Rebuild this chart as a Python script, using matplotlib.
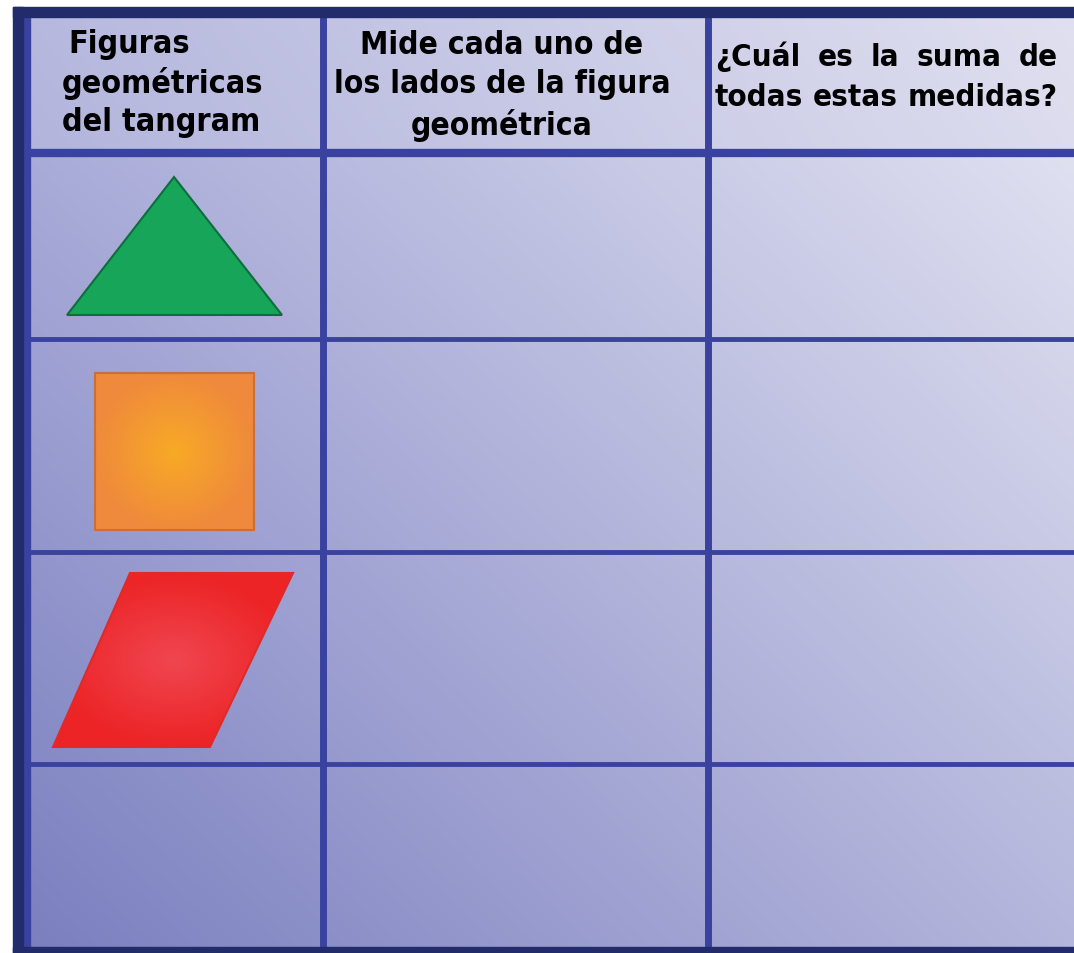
import numpy as np
import matplotlib.pyplot as plt
from matplotlib.patches import Polygon, Rectangle
from matplotlib.colors import to_rgb

# table text
headers = [
    "Figuras\ngeométricas\ndel tangram",
    "Mide cada uno de\nlos lados de la figura\ngeométrica",
    "¿Cuál es la suma de\ntodas estas medidas?",
]
col_edges = [22, 323, 708, 1074]
row_edges = [13, 154, 340, 553, 765, 950]

# shapes in the first column (pixel vertices)
triangle = [(174, 178), (67, 316), (282, 316)]
square = [(95, 374), (254, 374), (254, 531), (95, 531)]
rhomb = [(130, 574), (293, 574), (210, 748), (53, 748)]

W, H = 1074, 954
fig = plt.figure(figsize=(W / 100, H / 100), dpi=100)
ax = fig.add_axes([0, 0, 1, 1])
ax.set_xlim(0, W)
ax.set_ylim(H, 0)
ax.axis("off")


def grad2d(c_tl, c_tr, c_bl, c_br, n=200):
    t = np.linspace(0, 1, n)
    u, v = np.meshgrid(t, t)
    out = np.zeros((n, n, 3))
    for c, w in [(c_tl, (1 - u) * (1 - v)), (c_tr, u * (1 - v)),
                 (c_bl, (1 - u) * v), (c_br, u * v)]:
        out += np.array(to_rgb(c))[None, None, :] * w[..., None]
    return out


# body background
ax.imshow(grad2d("#a8abd8", "#dfe0f0", "#7b7fbf", "#b4b6dc"),
          extent=(col_edges[0], W, row_edges[-1], row_edges[1]),
          aspect="auto", zorder=0, interpolation="bilinear")
# header background
ax.imshow(grad2d("#b6b8de", "#e0e0f0", "#b2b4dc", "#dcdcee"),
          extent=(col_edges[0], W, row_edges[1], row_edges[0]),
          aspect="auto", zorder=0, interpolation="bilinear")

line_c = "#3a42a0"
for x in col_edges[1:-1]:
    ax.plot([x, x], [row_edges[0], row_edges[-1]], color=line_c, lw=5, zorder=2)
ax.plot([col_edges[0] + 5, W], [row_edges[1], row_edges[1]], color=line_c, lw=6, zorder=2)
for y in row_edges[2:-1]:
    ax.plot([col_edges[0] + 5, W], [y, y], color=line_c, lw=3.5, zorder=2)
ax.plot([27, 27], [row_edges[0], row_edges[-1]], color=line_c, lw=6, zorder=2)

# outer navy frame
navy = "#222c6a"
ax.add_patch(Rectangle((13, 8), W - 13, 10, color=navy, zorder=3))
ax.add_patch(Rectangle((13, 8), 10, H - 8, color=navy, zorder=3))
ax.add_patch(Rectangle((13, 948), W - 13, 8, color=navy, zorder=3))


def radial_fill(verts, c_center, c_edge, edge):
    xs = [p[0] for p in verts]
    ys = [p[1] for p in verts]
    x0, x1, y0, y1 = min(xs), max(xs), min(ys), max(ys)
    n = 150
    gx, gy = np.meshgrid(np.linspace(-1, 1, n), np.linspace(-1, 1, n))
    r = np.clip(np.sqrt(gx ** 2 + gy ** 2), 0, 1)[..., None]
    img = np.array(to_rgb(c_center)) * (1 - r) + np.array(to_rgb(c_edge)) * r
    poly = Polygon(verts, closed=True, facecolor="none", edgecolor=edge, lw=1.5, zorder=5)
    ax.add_patch(poly)
    im = ax.imshow(img, extent=(x0, x1, y1, y0), aspect="auto", zorder=4)
    im.set_clip_path(poly)


ax.add_patch(Polygon(triangle, closed=True, facecolor="#17a55a",
                     edgecolor="#0d6e3c", lw=1.5, zorder=4))
radial_fill(square, "#f8aa26", "#ef8a3c", "#c9703a")
radial_fill(rhomb, "#f04650", "#ec2426", "#e02a2a")

fnt = dict(family=["DejaVu Sans"], fontstretch="condensed", fontweight="bold",
           color="black", zorder=6)
renderer = fig.canvas.get_renderer()


def width_px(s, size):
    t = ax.text(0, 0, s, fontsize=size, **fnt)
    w = t.get_window_extent(renderer).width
    t.remove()
    return w


def fit_size(s, target):
    return 23 * target / width_px(s, 23)


# header col 1 / col 2: size chosen so the widest line matches the reference width
s1 = min(fit_size("geométricas", 202), 24)
lines1 = headers[0].split("\n")
for i, ln in enumerate(lines1):
    ax.text(62 + (6 if i == 0 else 0), 45 + 39 * i, ln, ha="left", va="center",
            fontsize=s1, **fnt)

s2 = min(fit_size("los lados de la figura", 337), 24)
for i, ln in enumerate(headers[1].split("\n")):
    ax.text(502, 45 + 40 * i, ln, ha="center", va="center", fontsize=s2, **fnt)

# header col 3: justified between x0 and x1
x0, x1 = 715, 1058
lines3 = headers[2].split("\n")
s3 = min(fit_size(lines3[1], x1 - x0), 24)
for i, ln in enumerate(lines3):
    words = ln.split(" ")
    ws = [width_px(w, s3) for w in words]
    gap = (x1 - x0 - sum(ws)) / max(len(words) - 1, 1)
    x = x0
    for w, wd in zip(words, ws):
        ax.text(x, 57 + 41 * i, w, ha="left", va="center", fontsize=s3, **fnt)
        x += wd + gap

fig.savefig("out.png", dpi=100, facecolor="white")
